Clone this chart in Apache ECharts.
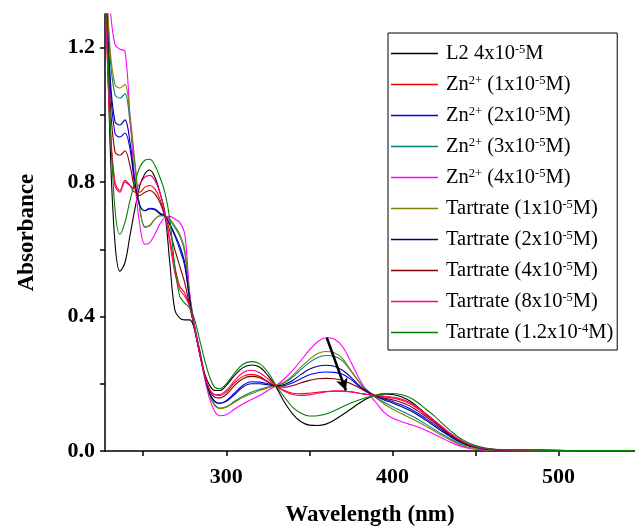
<!DOCTYPE html>
<html>
<head>
<meta charset="utf-8">
<script src="https://cdn.jsdelivr.net/npm/echarts@6/dist/echarts.min.js"></script>
<style>html,body{margin:0;padding:0;background:#fff}#c{width:635px;height:532px}</style>
</head>
<body>
<div id="c"></div>
<script>
const wavelengths = [227,230,233,236,239,242,245,248,251,254,257,260,263,266,269,272,275,278,281,284,287,290,293,296,300,305,310,315,320,325,330,335,340,345,350,355,360,365,370,375,380,385,390,395,400,405,410,415,420,425,430,435,440,445,450,455,460,470,490,520,546];

const L2 = [1.5,0.92,0.62,0.535,0.56,0.64,0.72,0.79,0.825,0.836,0.815,0.77,0.71,0.56,0.42,0.395,0.39,0.39,0.36,0.29,0.23,0.195,0.18,0.18,0.195,0.225,0.248,0.256,0.25,0.225,0.19,0.145,0.11,0.087,0.077,0.076,0.08,0.092,0.108,0.125,0.142,0.157,0.166,0.17,0.168,0.162,0.15,0.132,0.11,0.09,0.068,0.048,0.032,0.02,0.012,0.007,0.005,0.003,0.002,0.001,0.001];
const zn1 = [1.4,0.98,0.8,0.775,0.805,0.79,0.77,0.77,0.785,0.79,0.78,0.75,0.70,0.63,0.55,0.49,0.47,0.43,0.365,0.29,0.225,0.183,0.167,0.165,0.175,0.203,0.222,0.228,0.222,0.207,0.192,0.18,0.172,0.17,0.172,0.175,0.177,0.178,0.178,0.176,0.172,0.168,0.165,0.162,0.158,0.152,0.142,0.127,0.108,0.089,0.069,0.05,0.034,0.021,0.013,0.008,0.005,0.003,0.002,0.001,0.001];
const zn2 = [1.45,1.1,0.945,0.934,0.946,0.9,0.79,0.73,0.715,0.722,0.72,0.708,0.70,0.672,0.64,0.6,0.55,0.445,0.36,0.29,0.222,0.17,0.147,0.142,0.15,0.173,0.195,0.206,0.205,0.2,0.194,0.195,0.203,0.215,0.227,0.233,0.235,0.234,0.228,0.213,0.192,0.175,0.163,0.155,0.147,0.138,0.127,0.113,0.097,0.08,0.062,0.045,0.03,0.019,0.011,0.007,0.004,0.003,0.002,0.001,0.001];
const zn3 = [1.5,1.18,1.06,1.05,1.063,0.98,0.85,0.72,0.668,0.672,0.69,0.70,0.70,0.685,0.665,0.64,0.59,0.46,0.37,0.3,0.225,0.168,0.138,0.128,0.132,0.148,0.163,0.175,0.183,0.19,0.195,0.203,0.22,0.243,0.263,0.278,0.284,0.282,0.268,0.238,0.205,0.18,0.16,0.145,0.132,0.12,0.108,0.095,0.08,0.065,0.05,0.036,0.024,0.015,0.009,0.005,0.003,0.002,0.001,0.001,0.001];
const zn4 = [1.5,1.32,1.21,1.195,1.19,1.0,0.8,0.67,0.615,0.62,0.645,0.675,0.695,0.698,0.69,0.68,0.645,0.47,0.37,0.29,0.215,0.155,0.118,0.105,0.108,0.125,0.14,0.153,0.165,0.18,0.195,0.215,0.24,0.27,0.3,0.325,0.337,0.333,0.31,0.265,0.215,0.175,0.145,0.115,0.098,0.088,0.08,0.072,0.062,0.05,0.038,0.026,0.016,0.009,0.005,0.003,0.002,0.001,0.001,0.0,0.0];
const tart1 = [1.5,1.2,1.09,1.08,1.09,1.0,0.86,0.72,0.665,0.67,0.69,0.70,0.70,0.69,0.67,0.645,0.6,0.46,0.37,0.3,0.225,0.165,0.135,0.126,0.13,0.145,0.16,0.17,0.18,0.188,0.195,0.205,0.225,0.25,0.272,0.29,0.296,0.292,0.275,0.24,0.205,0.178,0.158,0.14,0.125,0.112,0.1,0.088,0.074,0.06,0.045,0.032,0.02,0.012,0.007,0.004,0.003,0.002,0.001,0.001,0.001];
const tart2 = [1.45,1.12,0.98,0.97,0.985,0.92,0.80,0.73,0.715,0.72,0.718,0.705,0.70,0.675,0.645,0.61,0.56,0.45,0.365,0.295,0.225,0.172,0.148,0.142,0.148,0.168,0.19,0.2,0.2,0.197,0.194,0.198,0.21,0.228,0.243,0.252,0.255,0.252,0.24,0.22,0.195,0.177,0.163,0.152,0.143,0.133,0.122,0.108,0.092,0.075,0.058,0.042,0.028,0.018,0.011,0.006,0.004,0.003,0.002,0.001,0.001];
const tart4 = [1.45,1.05,0.89,0.88,0.893,0.85,0.78,0.76,0.77,0.775,0.765,0.74,0.70,0.655,0.6,0.55,0.5,0.43,0.36,0.29,0.225,0.18,0.16,0.158,0.168,0.195,0.215,0.222,0.218,0.205,0.193,0.19,0.195,0.203,0.21,0.215,0.216,0.215,0.21,0.2,0.188,0.175,0.165,0.158,0.152,0.145,0.135,0.12,0.103,0.085,0.066,0.048,0.032,0.02,0.012,0.007,0.004,0.003,0.002,0.001,0.001];
const tart8 = [1.4,0.97,0.79,0.77,0.8,0.79,0.78,0.795,0.815,0.82,0.805,0.77,0.71,0.62,0.53,0.48,0.46,0.43,0.365,0.29,0.225,0.183,0.168,0.168,0.18,0.21,0.233,0.24,0.233,0.215,0.194,0.178,0.168,0.165,0.167,0.172,0.176,0.178,0.178,0.176,0.172,0.168,0.165,0.163,0.16,0.155,0.145,0.13,0.112,0.092,0.072,0.052,0.035,0.022,0.013,0.008,0.005,0.003,0.002,0.001,0.001];
const tart12 = [1.5,1.0,0.72,0.645,0.68,0.745,0.80,0.845,0.865,0.868,0.85,0.815,0.77,0.69,0.55,0.46,0.44,0.425,0.39,0.33,0.27,0.22,0.19,0.185,0.2,0.232,0.258,0.266,0.26,0.235,0.195,0.16,0.13,0.112,0.104,0.105,0.11,0.12,0.132,0.143,0.152,0.16,0.166,0.17,0.171,0.168,0.16,0.145,0.125,0.105,0.082,0.06,0.04,0.026,0.016,0.01,0.006,0.004,0.002,0.001,0.001];

const xTicks = [250,300,350,400,450,500];
const xLabels = [300,400,500];
const yTicks = [0,0.2,0.4,0.6,0.8,1.0,1.2];
const yLabels = [0,0.4,0.8,1.2];

const seriesKeys = ['L2','Zn1','Zn2','Zn3','Zn4','T1','T2','T4','T8','T12'];
const seriesData = [L2,zn1,zn2,zn3,zn4,tart1,tart2,tart4,tart8,tart12];
const seriesColors = ['#000000','#ff0000','#0000ff','#008080','#ff00ff','#808000','#000080','#800000','#ff0080','#008000'];
const legendLabels = [
  '{n|L2 4x10}{s|-5}{n|M}',
  '{n|Zn}{s|2+}{n| (1x10}{s|-5}{n|M)}',
  '{n|Zn}{s|2+}{n| (2x10}{s|-5}{n|M)}',
  '{n|Zn}{s|2+}{n| (3x10}{s|-5}{n|M)}',
  '{n|Zn}{s|2+}{n| (4x10}{s|-5}{n|M)}',
  '{n|Tartrate (1x10}{s|-5}{n|M)}',
  '{n|Tartrate (2x10}{s|-5}{n|M)}',
  '{n|Tartrate (4x10}{s|-5}{n|M)}',
  '{n|Tartrate (8x10}{s|-5}{n|M)}',
  '{n|Tartrate (1.2x10}{s|-4}{n|M)}'
];
const arrowStart = [360.5, 0.337];
const arrowEnd = [372, 0.18];

const FONT = '"Liberation Serif", "Times New Roman", serif';

const series = seriesKeys.map((k, i) => ({
  name: k,
  type: 'line',
  data: wavelengths.map((w, j) => [w, seriesData[i][j]]),
  smooth: 0.35,
  showSymbol: false,
  symbol: 'none',
  lineStyle: { color: seriesColors[i], width: 1.1 },
  itemStyle: { color: seriesColors[i] },
  clip: true,
  z: 2
}));
series[0].markLine = {
  silent: true,
  symbol: ['none', 'arrow'],
  symbolSize: [9, 12],
  label: { show: false },
  lineStyle: { color: '#000', width: 2.5, type: 'solid', curveness: -0.2 },
  data: [[{ coord: arrowStart }, { coord: arrowEnd }]]
};

const chart = echarts.init(document.getElementById('c'), null, { renderer: 'canvas' });
chart.setOption({
  backgroundColor: '#fff',
  animation: false,
  grid: { left: 105, right: 0, top: 14, bottom: 80, containLabel: false },
  xAxis: {
    type: 'value', min: 227, max: 546,
    name: 'Wavelength (nm)', nameLocation: 'middle', nameGap: 53,
    nameTextStyle: { fontFamily: FONT, fontWeight: 'bold', fontSize: 23, color: '#000' },
    axisLine: { show: true, onZero: false, lineStyle: { color: '#000', width: 1.5 } },
    axisTick: { show: true, inside: false, length: 5, lineStyle: { color: '#000', width: 1.5 }, customValues: xTicks },
    axisLabel: { customValues: xLabels, margin: 15, fontFamily: FONT, fontWeight: 'bold', fontSize: 22, color: '#000' },
    splitLine: { show: false }
  },
  yAxis: {
    type: 'value', min: 0, max: 1.3,
    name: 'Absorbance', nameLocation: 'middle', nameGap: 66, nameRotate: 90,
    nameTextStyle: { fontFamily: FONT, fontWeight: 'bold', fontSize: 23, color: '#000' },
    axisLine: { show: true, lineStyle: { color: '#000', width: 1.5 } },
    axisTick: { show: true, inside: false, length: 5, lineStyle: { color: '#000', width: 1.5 }, customValues: yTicks },
    axisLabel: { customValues: yLabels, margin: 10, fontFamily: FONT, fontWeight: 'bold', fontSize: 22, color: '#000',
      formatter: v => v.toFixed(1) },
    splitLine: { show: false }
  },
  legend: {
    show: true, orient: 'vertical', left: 388, top: 33,
    padding: [10, 4, 5, 3], itemGap: 8, itemWidth: 47, itemHeight: 1.5,
    borderColor: '#000', borderWidth: 1, backgroundColor: '#fff',
    icon: 'rect',
    data: seriesKeys.map((k, i) => ({ name: k, itemStyle: { color: seriesColors[i] } })),
    formatter: name => legendLabels[seriesKeys.indexOf(name)],
    textStyle: {
      color: '#000',
      padding: [0, 0, 0, 3],
      rich: {
        n: { fontFamily: FONT, fontSize: 20.5, color: '#000', lineHeight: 21, verticalAlign: 'bottom' },
        s: { fontFamily: FONT, fontSize: 12.5, color: '#000', lineHeight: 11, verticalAlign: 'top', padding: [0, 0, 10, 0] }
      }
    }
  },
  series: series
});
</script>
</body>
</html>
